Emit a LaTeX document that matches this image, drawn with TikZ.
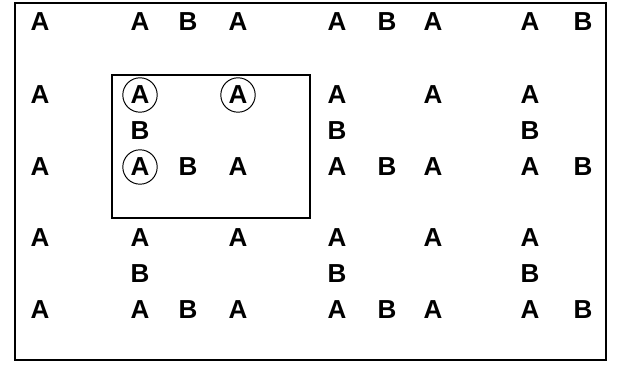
\documentclass[tikz,border=0pt]{standalone}
\usepackage{fontspec}
\setmainfont{Liberation Sans}
\tikzset{
  letter/.style={font=\fontsize{18.5}{20}\selectfont\bfseries,inner sep=0pt},
  ring/.style={letter,draw,circle,line width=0.7pt,minimum size=0.86cm}
}
\begin{document}
\begin{tikzpicture}[x=0.025cm,y=-0.025cm]
\useasboundingbox (0,0) rectangle (617,366);
\draw[line width=1.3pt] (15,3) rectangle (606,360);
\draw[line width=1.3pt] (112,75) rectangle (310,218);
% row 1
\node[letter] (r1a) at (40,22) {A};
\node[letter] (r1b) at (140,22) {A};
\node[letter] (r1c) at (188,22) {B};
\node[letter] (r1d) at (238,22) {A};
\node[letter] (r1e) at (337,22) {A};
\node[letter] (r1f) at (387,22) {B};
\node[letter] (r1g) at (433,22) {A};
\node[letter] (r1h) at (530,22) {A};
\node[letter] (r1i) at (583,22) {B};
% row 2
\node[letter] (r2a) at (40,95) {A};
\node[ring] (r2b) at (140,95) {A};
\node[ring] (r2d) at (238,95) {A};
\node[letter] (r2e) at (337,95) {A};
\node[letter] (r2g) at (433,95) {A};
\node[letter] (r2h) at (530,95) {A};
\node[letter] (m1b) at (140,131) {B};
\node[letter] (m1e) at (337,131) {B};
\node[letter] (m1h) at (530,131) {B};
% row 3
\node[letter] (r3a) at (40,167) {A};
\node[ring] (r3b) at (140,167) {A};
\node[letter] (r3c) at (188,167) {B};
\node[letter] (r3d) at (238,167) {A};
\node[letter] (r3e) at (337,167) {A};
\node[letter] (r3f) at (387,167) {B};
\node[letter] (r3g) at (433,167) {A};
\node[letter] (r3h) at (530,167) {A};
\node[letter] (r3i) at (583,167) {B};
% row 4
\node[letter] (r4a) at (40,238) {A};
\node[letter] (r4b) at (140,238) {A};
\node[letter] (r4d) at (238,238) {A};
\node[letter] (r4e) at (337,238) {A};
\node[letter] (r4g) at (433,238) {A};
\node[letter] (r4h) at (530,238) {A};
\node[letter] (m2b) at (140,274) {B};
\node[letter] (m2e) at (337,274) {B};
\node[letter] (m2h) at (530,274) {B};
% row 5
\node[letter] (r5a) at (40,310) {A};
\node[letter] (r5b) at (140,310) {A};
\node[letter] (r5c) at (188,310) {B};
\node[letter] (r5d) at (238,310) {A};
\node[letter] (r5e) at (337,310) {A};
\node[letter] (r5f) at (387,310) {B};
\node[letter] (r5g) at (433,310) {A};
\node[letter] (r5h) at (530,310) {A};
\node[letter] (r5i) at (583,310) {B};
\end{tikzpicture}
\end{document}
